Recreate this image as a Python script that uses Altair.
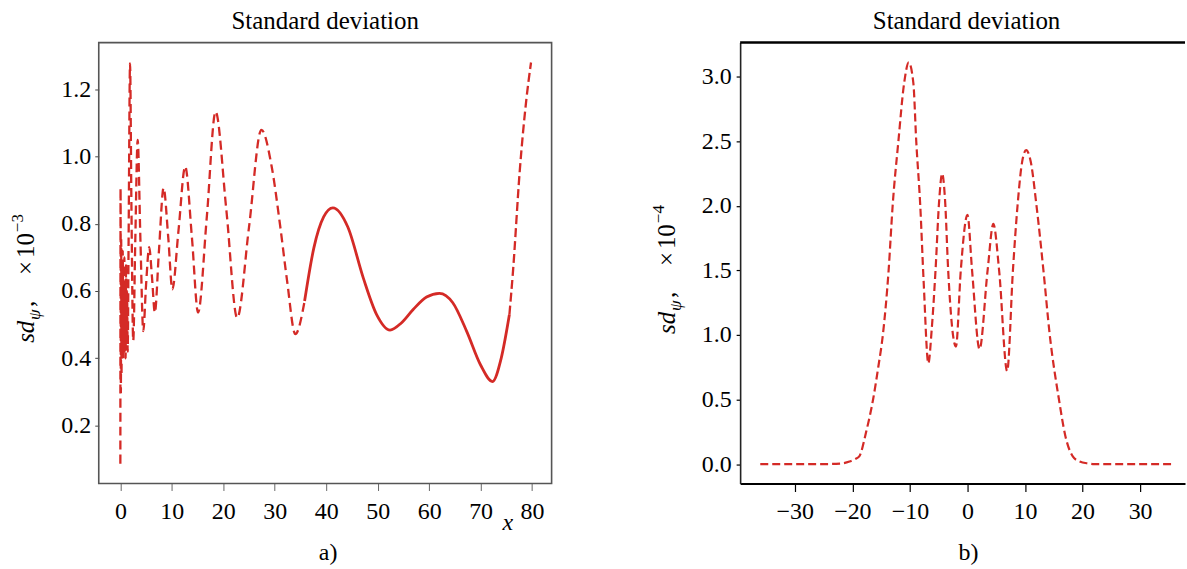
import altair as alt
import pandas as pd

# ---------------- data ----------------
left_x = [0, 0.04, 0.1, 0.16, 0.22, 0.3, 0.38, 0.46, 0.54, 0.62, 0.7, 0.78, 0.86, 0.94,
          1.02, 1.1, 1.2, 1.3, 1.42, 1.6, 1.88, 2.15, 2.5, 2.9, 3.36, 3.9, 4.45, 5.0, 5.6,
          6.15, 6.7, 7.5, 8.4, 9.3, 10.1, 11.3, 12.6, 13.9, 15.1, 16.8, 18.5, 20.6, 22.7,
          25.0, 27.4, 29.4, 31.1, 32.4, 34.0, 35.8, 37.6, 39.5, 41.3, 44.2, 47.2, 49.8,
          52.4, 54.6, 56.9, 59.5, 62.0, 64.6, 67.3, 70.0, 72.3, 74.0, 75.6, 76.3, 77.6,
          78.9, 79.8]
left_v = [0.087, 0.906, 0.30, 0.75, 0.35, 0.68, 0.42, 0.72, 0.40, 0.66, 0.45, 0.70, 0.42,
          0.62, 0.40, 0.68, 0.45, 0.60, 0.42, 0.75, 1.276, 0.85, 0.452, 0.75, 1.049, 0.75,
          0.481, 0.62, 0.730, 0.64, 0.536, 0.72, 0.906, 0.76, 0.605, 0.78, 0.970, 0.76,
          0.536, 0.82, 1.133, 0.84, 0.52, 0.79, 1.079, 0.97, 0.788, 0.63, 0.472, 0.57,
          0.728, 0.82, 0.847, 0.79, 0.639, 0.53, 0.484, 0.505, 0.545, 0.582, 0.593, 0.565,
          0.48, 0.38, 0.331, 0.40, 0.53, 0.659, 0.955, 1.17, 1.279]

right_x = [-36, -30, -25, -22, -20.5, -19.5, -18.8, -17.6, -16.4, -15.5, -14.7, -13.7,
           -13.0, -12.0, -11.0, -10.2, -9.4, -8.9, -8.2, -7.6, -6.8, -6.2, -5.55, -4.9,
           -4.4, -3.9, -3.35, -2.0, -1.16, 0.0, 0.8, 2.1, 3.5, 4.5, 5.5, 6.9, 7.9, 8.7,
           9.5, 10.2, 11.0, 12.0, 13.2, 14.3, 15.9, 17.0, 18.3, 19.5, 21.0, 22, 25, 30, 36]
right_v = [0, 0, 0, 0.005, 0.02, 0.04, 0.06, 0.25, 0.5, 0.75, 1.0, 1.5, 2.0, 2.5, 2.95,
           3.11, 2.95, 2.5, 2.0, 1.4, 0.78, 1.05, 1.5, 2.05, 2.25, 2.05, 1.5, 0.91, 1.5,
           1.93, 1.5, 0.89, 1.5, 1.86, 1.5, 0.72, 1.5, 2.0, 2.34, 2.43, 2.34, 2.0, 1.5, 1.0,
           0.5, 0.22, 0.06, 0.02, 0.005, 0, 0, 0, 0]

left_xticks = [0, 10, 20, 30, 40, 50, 60, 70, 80]
left_yticks = [0.2, 0.4, 0.6, 0.8, 1.0, 1.2]
right_xticks = [-30, -20, -10, 0, 10, 20, 30]
right_yticks = [0.0, 0.5, 1.0, 1.5, 2.0, 2.5, 3.0]

title_text = "Standard deviation"

# ---------------- styling ----------------
FONT = "Liberation Serif"
RED = "#d42a26"
TICK_FS = 24
LW, LH = 454, 442
RW, RH = 446, 442

dfL = pd.DataFrame({"x": left_x, "v": left_v})
dfR = pd.DataFrame({"x": right_x, "v": right_v})
one = pd.DataFrame({"a": [0]})


def txt(s, x, y, size, italic=False, angle=0, align="center", baseline="alphabetic"):
    return alt.Chart(one).mark_text(
        text=s, font=FONT, fontSize=size, fontStyle="italic" if italic else "normal",
        angle=angle, align=align, baseline=baseline, color="black"
    ).encode(x=alt.value(x), y=alt.value(y))


def ytitle(start, exp):
    bx = -65
    return [
        txt("sd", bx, start, 25, italic=True, angle=270, align="left"),
        txt("ψ", bx + 6, start - 23, 17, italic=True, angle=270, align="left"),
        txt(",", bx, start - 36, 25, angle=270, align="left"),
        txt("×", bx, start - 68, 25, angle=270, align="left"),
        txt("10", bx, start - 85, 25, angle=270, align="left"),
        txt(exp, bx - 11, start - 111, 17, angle=270, align="left"),
    ]


# ---------------- left panel ----------------
xL = alt.X("x:Q", scale=alt.Scale(domain=[-4.2, 83.8], nice=False, zero=False),
           axis=alt.Axis(values=left_xticks, format="d", title=None, domain=False, grid=False,
                         tickSize=7, tickColor="#666666", tickWidth=1, labelPadding=9,
                         labelFont=FONT, labelFontSize=TICK_FS, labelColor="black"))
yL = alt.Y("v:Q", scale=alt.Scale(domain=[0.028, 1.338], nice=False, zero=False),
           axis=alt.Axis(values=left_yticks, format=".1f", title=None, domain=False, grid=False,
                         tickSize=4, tickColor="#444444", tickWidth=1, labelPadding=4,
                         labelFont=FONT, labelFontSize=TICK_FS, labelColor="black"))

baseL = alt.Chart(dfL).encode(x=xL, y=yL)
lineA = baseL.transform_filter(alt.datum.x <= 35.8).mark_line(
    color=RED, strokeWidth=2.3, strokeDash=[9, 5], interpolate="monotone")
lineB = baseL.transform_filter((alt.datum.x >= 35.8) & (alt.datum.x <= 75.6)).mark_line(
    color=RED, strokeWidth=2.8, interpolate="monotone")
lineC = baseL.transform_filter(alt.datum.x >= 75.6).mark_line(
    color=RED, strokeWidth=2.3, strokeDash=[9, 4], interpolate="monotone")

frameL = alt.Chart(one).mark_rect(fill="transparent", stroke="#555555", strokeWidth=1.6).encode(
    x=alt.value(0), x2=alt.value(LW), y=alt.value(0), y2=alt.value(LH))

anchor = alt.Chart(one).mark_rule(strokeWidth=0, opacity=0).encode(
    x=alt.value(-98), y=alt.value(-41), y2=alt.value(528))

left = alt.layer(
    anchor, frameL, lineA, lineB, lineC,
    txt(title_text, LW / 2, -14, 25),
    txt("x", 410, 489, 24, italic=True),
    txt("a)", 230, 519, 24),
    *ytitle(301, "−3"),
).properties(width=LW, height=LH)

# ---------------- right panel ----------------
xR = alt.X("x:Q", scale=alt.Scale(domain=[-39.5, 37.8], nice=False, zero=False),
           axis=alt.Axis(values=right_xticks, format="d", title=None, grid=False,
                         domain=True, domainColor="black", domainWidth=2,
                         tickSize=8, tickColor="black", tickWidth=1.2, labelPadding=8,
                         labelFont=FONT, labelFontSize=TICK_FS, labelColor="black"))
yR = alt.Y("v:Q", scale=alt.Scale(domain=[-0.15, 3.263], nice=False, zero=False),
           axis=alt.Axis(values=right_yticks, format=".1f", title=None, grid=False,
                         domain=True, domainColor="#222222", domainWidth=1.6,
                         tickSize=4, tickColor="black", tickWidth=1.2, labelPadding=5,
                         labelFont=FONT, labelFontSize=TICK_FS, labelColor="black"))

lineR = alt.Chart(dfR).mark_line(color=RED, strokeWidth=2.2, strokeDash=[8, 4],
                                 interpolate="monotone").encode(x=xR, y=yR)
topR = alt.Chart(one).mark_rule(color="black", strokeWidth=2.5).encode(
    x=alt.value(0), x2=alt.value(RW), y=alt.value(0))

right = alt.layer(
    topR, lineR,
    txt(title_text, RW / 2 + 4, -14, 25),
    txt("b)", 229, 519, 24),
    *ytitle(292, "−4"),
).properties(width=RW, height=RH)

chart = alt.hconcat(left, right, spacing=189, bounds="flush").properties(
    padding={"left": 0, "top": 0, "right": 0, "bottom": 0}
).configure_view(stroke="transparent")

chart.save("out.html", embed_options={"renderer": "svg", "actions": False})
